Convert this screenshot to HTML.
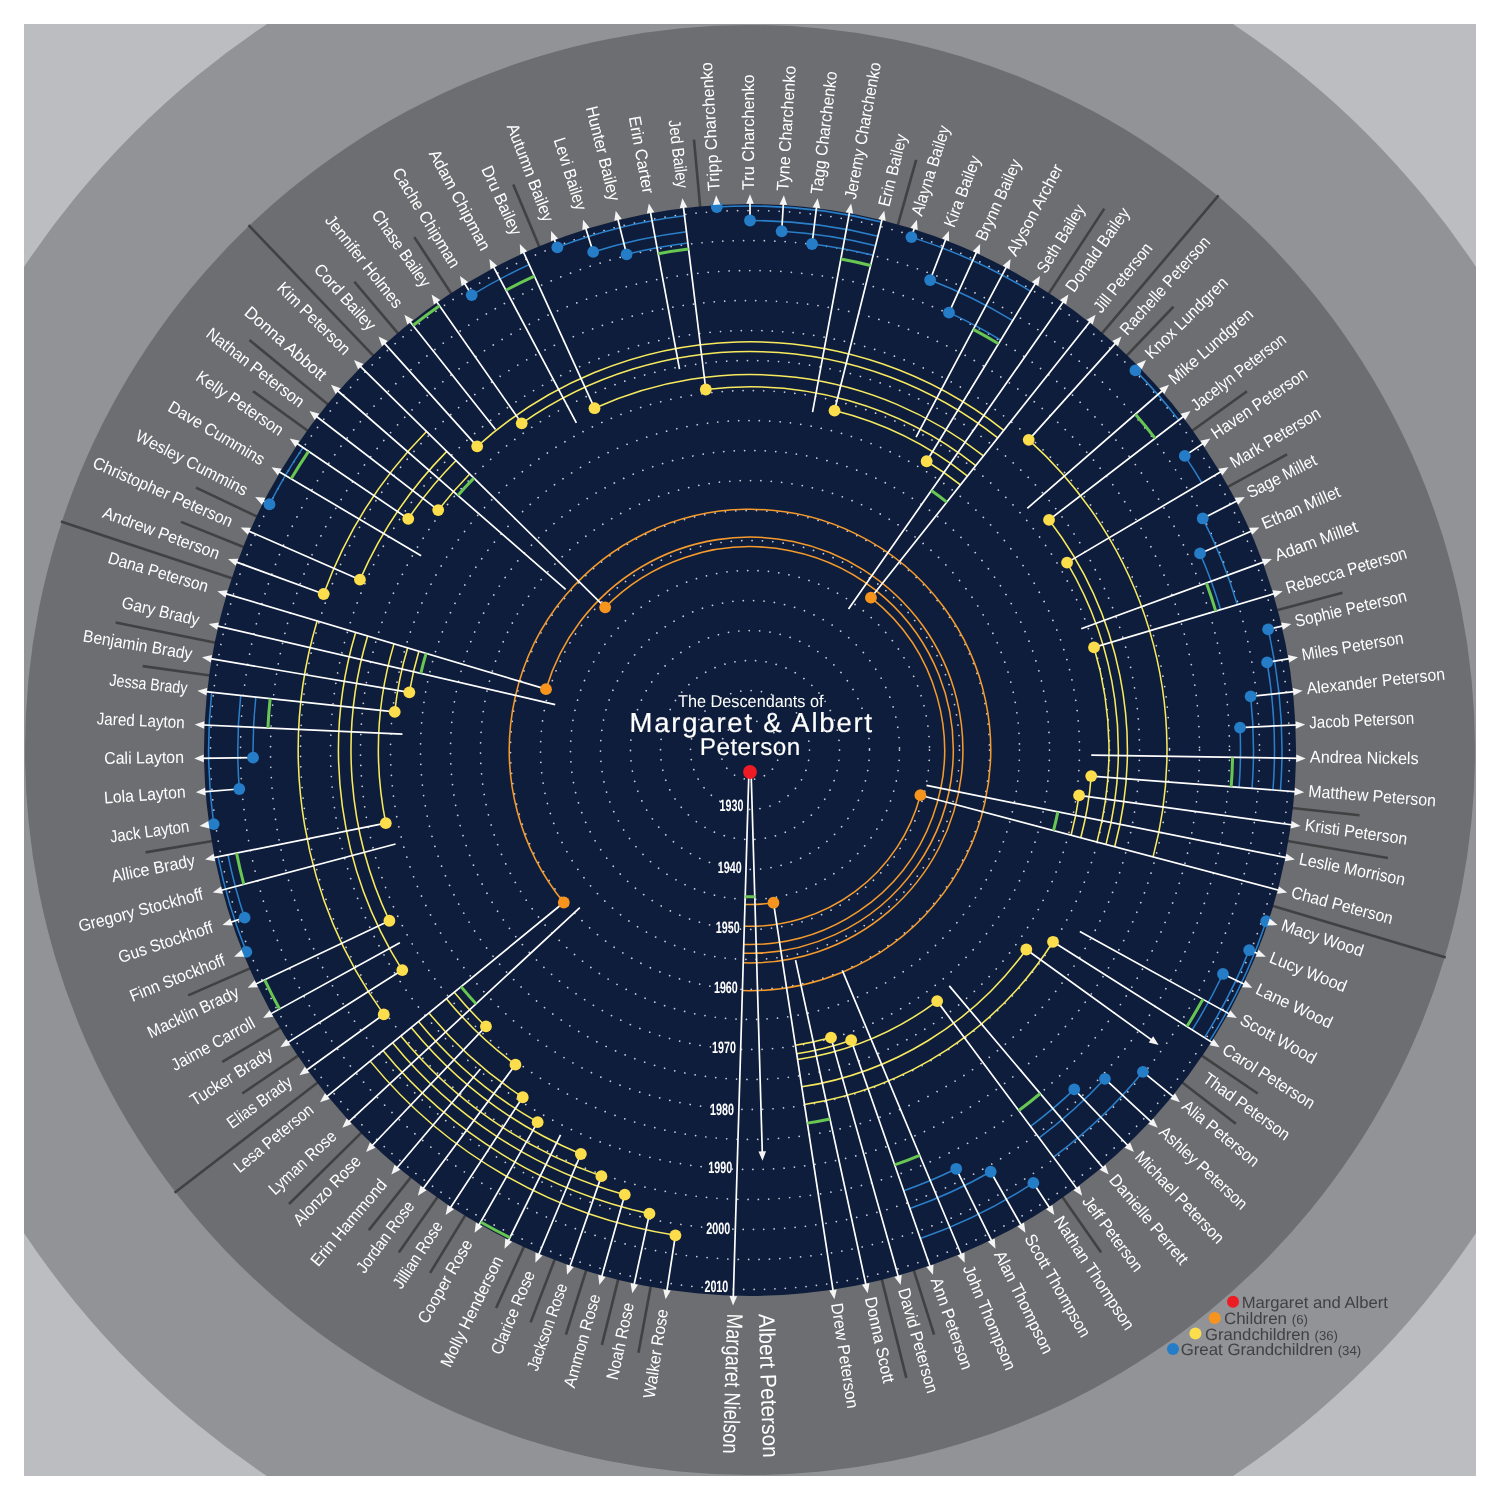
<!DOCTYPE html>
<html><head><meta charset="utf-8"><title>The Descendants of Margaret &amp; Albert Peterson</title>
<style>html,body{margin:0;padding:0;background:#fff}body{width:1500px;height:1500px;overflow:hidden}svg{display:block;will-change:transform}text{font-family:"Liberation Sans",sans-serif;text-rendering:geometricPrecision}</style></head><body>
<svg width="1500" height="1500" viewBox="0 0 1500 1500">
<defs><clipPath id="sq"><rect x="24" y="24" width="1452" height="1452"/></clipPath></defs>
<rect width="1500" height="1500" fill="#ffffff"/>
<g clip-path="url(#sq)">
<rect x="24" y="24" width="1452" height="1452" fill="#bbbdc0"/>
<circle cx="750" cy="750" r="872" fill="#929397"/>
<circle cx="750" cy="750" r="725" fill="#6d6e71"/>
</g>
<g stroke="#414042" stroke-width="2.6" fill="none">
<line x1="1101.73" y1="333.7" x2="1218.55" y2="195.44"/>
<line x1="1272.28" y1="905.72" x2="1445.74" y2="957.43"/>
<line x1="373.54" y1="355.91" x2="248.52" y2="225.03"/>
<line x1="232.71" y1="578.43" x2="60.91" y2="521.45"/>
<line x1="318.04" y1="1082.32" x2="174.59" y2="1192.69"/>
<line x1="1048.45" y1="293.98" x2="1104.31" y2="208.64"/>
<line x1="328.38" y1="404.66" x2="249.47" y2="340.02"/>
<line x1="215.68" y1="642.66" x2="115.67" y2="622.57"/>
<line x1="361.7" y1="1132.42" x2="289.03" y2="1204"/>
<line x1="881.67" y1="1278.86" x2="906.31" y2="1377.83"/>
<line x1="1287.35" y1="841" x2="1387.92" y2="858.03"/>
<line x1="897.74" y1="225.41" x2="916.17" y2="159.95"/>
<line x1="700.2" y1="207.28" x2="693.99" y2="139.56"/>
<line x1="539.52" y1="247.28" x2="513.26" y2="184.56"/>
<line x1="451.55" y1="293.98" x2="414.31" y2="237.09"/>
<line x1="398.27" y1="333.7" x2="354.38" y2="281.75"/>
<line x1="308.11" y1="431" x2="252.98" y2="391.2"/>
<line x1="257.44" y1="516.75" x2="195.98" y2="487.64"/>
<line x1="244.13" y1="547.21" x2="181.02" y2="521.91"/>
<line x1="210.13" y1="675.43" x2="142.76" y2="666.13"/>
<line x1="212.65" y1="841" x2="145.61" y2="852.35"/>
<line x1="250.55" y1="968.12" x2="188.24" y2="995.34"/>
<line x1="280.81" y1="1027.28" x2="222.27" y2="1061.88"/>
<line x1="298.59" y1="1055.37" x2="242.27" y2="1093.47"/>
<line x1="411.13" y1="1176.84" x2="368.85" y2="1230.09"/>
<line x1="437.78" y1="1196.7" x2="398.82" y2="1252.44"/>
<line x1="465.59" y1="1214.91" x2="430.11" y2="1272.91"/>
<line x1="524.29" y1="1246.06" x2="496.12" y2="1307.96"/>
<line x1="554.95" y1="1258.9" x2="530.61" y2="1322.4"/>
<line x1="586.34" y1="1269.85" x2="565.92" y2="1334.71"/>
<line x1="618.33" y1="1278.86" x2="601.9" y2="1344.84"/>
<line x1="650.82" y1="1285.9" x2="638.44" y2="1352.76"/>
<line x1="913.66" y1="1269.85" x2="934.08" y2="1334.71"/>
<line x1="1062.22" y1="1196.7" x2="1101.18" y2="1252.44"/>
<line x1="1181.96" y1="1082.32" x2="1235.85" y2="1123.79"/>
<line x1="1201.41" y1="1055.37" x2="1257.73" y2="1093.47"/>
<line x1="1291.9" y1="808.07" x2="1359.51" y2="815.32"/>
<line x1="1276.79" y1="610.28" x2="1342.51" y2="592.85"/>
<line x1="1227.43" y1="487.15" x2="1287" y2="454.36"/>
<line x1="1191.89" y1="431" x2="1247.02" y2="391.2"/>
<line x1="1126.46" y1="355.91" x2="1173.43" y2="306.74"/>
</g>
<circle cx="750" cy="750" r="546" fill="#0e1d3b"/>
<g fill="none" stroke="#c6ccdc" stroke-width="1.75" stroke-linecap="round" stroke-dasharray="0.01 10.4">
<circle cx="750" cy="750" r="29.5"/>
<circle cx="750" cy="750" r="59.5"/>
<circle cx="750" cy="750" r="89.5"/>
<circle cx="750" cy="750" r="119.5"/>
<circle cx="750" cy="750" r="149.5"/>
<circle cx="750" cy="750" r="179.5"/>
<circle cx="750" cy="750" r="209.5"/>
<circle cx="750" cy="750" r="239.5"/>
<circle cx="750" cy="750" r="269.5"/>
<circle cx="750" cy="750" r="299.5"/>
<circle cx="750" cy="750" r="329.5"/>
<circle cx="750" cy="750" r="359.5"/>
<circle cx="750" cy="750" r="389.5"/>
<circle cx="750" cy="750" r="419.5"/>
<circle cx="750" cy="750" r="449.5"/>
<circle cx="750" cy="750" r="479.5"/>
<circle cx="750" cy="750" r="509.5"/>
<circle cx="750" cy="750" r="539.5"/>
</g>
<path fill="none" stroke="#f59a2c" stroke-width="1.55" d="M744.97 904.42 A154.5 154.5 0 0 0 773.47 902.71 M744.32 926.21 A176.3 176.3 0 0 0 920.41 795.2 M743.78 944.4 A194.5 194.5 0 0 0 870.94 597.67 M743.52 953.2 A203.3 203.3 0 1 0 605.15 607.35 M743.23 962.79 A212.9 212.9 0 1 0 545.98 689.17 M742.41 990.58 A240.7 240.7 0 1 0 563.79 902.52"/>
<path fill="none" stroke="#f8ea5e" stroke-width="1.55" d="M960.47 484.89 A338.5 338.5 0 0 0 926.65 461.25 M967.5 476.04 A349.8 349.8 0 0 0 834.51 410.56 M975.83 465.55 A363.2 363.2 0 0 0 705.8 389.5 M983.48 455.91 A375.5 375.5 0 0 0 594.49 408.22 M997.78 437.9 A398.5 398.5 0 0 0 521.71 423.37 M1003.81 430.3 A408.2 408.2 0 0 0 477.17 446.37 M469.71 473.95 A393.4 393.4 0 0 0 438.2 510.12 M456.03 460.48 A412.6 412.6 0 0 0 408.25 518.81 M446.77 451.36 A425.6 425.6 0 0 0 359.97 579.66 M426.53 431.43 A454 454 0 0 0 323.64 594 M418.9 651.28 A345.5 345.5 0 0 0 409.35 692.31 M407.59 647.91 A357.3 357.3 0 0 0 394.73 711.93 M393.99 643.85 A371.5 371.5 0 0 0 385.78 823.17 M367.63 636 A399 399 0 0 0 389.39 920.77 M355.65 632.43 A411.5 411.5 0 0 0 402.29 970.07 M317.13 620.94 A451.7 451.7 0 0 0 383.76 1014.39 M454.25 992.25 A382.3 382.3 0 0 0 485.93 1026.44 M446.36 998.71 A392.5 392.5 0 0 0 515.44 1064.7 M428.95 1012.97 A415 415 0 0 0 522.74 1097.24 M418.51 1021.52 A428.5 428.5 0 0 0 537.64 1122.18 M411.16 1027.54 A438 438 0 0 0 580.84 1154.02 M400.87 1035.97 A451.3 451.3 0 0 0 601.41 1176.14 M392.59 1042.75 A462 462 0 0 0 624.76 1194.7 M383 1050.61 A474.4 474.4 0 0 0 649.48 1213.63 M370.16 1061.13 A491 491 0 0 0 675.41 1235.3 M795.39 1045.33 A298.8 298.8 0 0 0 831 1037.61 M796.68 1053.73 A307.3 307.3 0 0 0 851.18 1040.17 M797.58 1059.56 A313.2 313.2 0 0 0 937.17 1001.12 M804.48 1104.44 A358.6 358.6 0 0 0 1053.01 941.78 M801.77 1086.84 A340.8 340.8 0 0 0 1026.32 949.48 M1071.1 835.16 A332.2 332.2 0 0 0 1079.08 795.45 M1080.76 837.73 A342.2 342.2 0 0 0 1091.21 776.07 M1097 842.03 A359 359 0 0 0 1094.03 647.43 M1105.99 844.42 A368.3 368.3 0 0 0 1067.07 562.62 M1114.69 846.73 A377.3 377.3 0 0 0 1049.04 519.93 M1153.06 856.9 A417 417 0 0 0 1028.71 439.83"/>
<path fill="none" stroke="#2b7fc9" stroke-width="1.55" d="M1000.75 340.12 A480.5 480.5 0 0 0 949 312.65 M1012.65 320.67 A503.3 503.3 0 0 0 930.13 280.04 M1030.6 291.32 A537.7 537.7 0 0 0 911.47 237.12 M873.16 255.3 A509.8 509.8 0 0 0 812.04 243.99 M875.56 245.69 A519.7 519.7 0 0 0 781.68 231.27 M877.92 236.19 A529.5 529.5 0 0 0 750 220.5 M881.43 222.11 A544 544 0 0 0 716.84 207.01 M687.84 243 A510.8 510.8 0 0 0 626.59 254.33 M686.45 231.68 A522.2 522.2 0 0 0 593.18 251.9 M684.49 215.7 A538.3 538.3 0 0 0 557.35 247.36 M529.13 264.59 A533.3 533.3 0 0 0 471.7 295.07 M302.98 447.6 A539.7 539.7 0 0 0 269.5 504.25 M255.83 697.04 A497 497 0 0 0 253.06 757.58 M240.72 695.42 A512.2 512.2 0 0 0 239.29 789.02 M211.68 692.31 A541.4 541.4 0 0 0 213.69 824.08 M227.93 854.88 A532.5 532.5 0 0 0 244.58 917.64 M218.03 856.87 A542.6 542.6 0 0 0 246.36 951.9 M903.69 1190.77 A466.8 466.8 0 0 0 956.19 1168.79 M909.88 1208.52 A485.6 485.6 0 0 0 990.66 1171.77 M920.35 1238.55 A517.4 517.4 0 0 0 1033.34 1182.92 M1030.52 1126.36 A469.4 469.4 0 0 0 1074.24 1089.42 M1039.12 1137.9 A483.8 483.8 0 0 0 1104.89 1078.81 M1053.53 1157.23 A507.9 507.9 0 0 0 1142.92 1071.83 M1192.18 1029.86 A523.3 523.3 0 0 0 1222.95 973.97 M1204.43 1037.61 A537.8 537.8 0 0 0 1249.18 950.11 M1209.59 1040.88 A543.9 543.9 0 0 0 1266.24 921.23 M1239.07 787.37 A490.5 490.5 0 0 0 1239.99 727.57 M1252.04 788.36 A503.5 503.5 0 0 0 1250.63 696.35 M1272.98 789.96 A524.5 524.5 0 0 0 1267.14 662.42 M1280.45 790.53 A532 532 0 0 0 1268.14 629.36 M1220.63 609.68 A491.1 491.1 0 0 0 1200.05 553.45 M1237.3 604.71 A508.5 508.5 0 0 0 1202.72 518.46 M1201.88 482.94 A524.9 524.9 0 0 0 1184.76 455.89 M1178.79 420.11 A541 541 0 0 0 1135.45 370.38"/>
<path fill="none" stroke="#ffffff" stroke-width="1.7" d="M773.47 902.71L833.83 1295.4 M920.41 795.2L1283.36 891.46 M870.94 597.67L1093.1 317.84 M605.15 607.35L356.85 362.81 M545.98 689.17L221.2 592.34 M563.79 902.52L323.12 1099.65 M926.65 461.25L1037.96 279.29 M834.51 410.56L883.31 214.55 M705.8 389.5L682.85 202.3 M594.49 408.22L521.47 247.75 M521.71 423.37L433.88 297.72 M477.17 446.37L381.19 339.56 M438.2 510.12L312.65 413.53 M408.25 518.81L292.96 440.82 M359.97 579.66L244.32 529.16 M323.64 594L231.8 560.39 M409.35 692.31L205.95 657.87 M394.73 711.93L201.34 691.21 M385.78 823.17L209.01 858.68 M389.39 920.77L251.29 986.16 M402.29 970.07L283.74 1045.1 M383.76 1014.39L302.6 1072.98 M485.93 1026.44L368.85 1149 M515.44 1064.7L420.24 1192.43 M522.74 1097.24L447.82 1211.71 M537.64 1122.18L476.53 1229.27 M580.84 1154.02L536.89 1258.99 M601.41 1176.14L568.32 1271.03 M624.76 1194.7L600.42 1281.14 M649.48 1213.63L633.08 1289.27 M675.41 1235.3L666.17 1295.4 M831 1037.61L899.58 1281.14 M851.18 1040.17L931.68 1271.03 M937.17 1001.12L1079.76 1192.43 M1053.01 941.78L1216.26 1045.1 M1026.32 949.48L1155.4 1042.66 M1079.08 795.45L1296.61 825.5 M1091.21 776.07L1300.2 792.04 M1094.03 647.43L1278.8 592.34 M1067.07 562.62L1225.04 469.26 M1049.04 519.93L1187.35 413.53 M1028.71 439.83L1118.81 339.56 M949 312.65L978.53 247.75 M930.13 280.04L947.49 234.75 M911.47 237.12L915.71 223.67 M812.04 243.99L817.15 202.3 M781.68 231.27L783.64 199.23 M750 220.5L750 198.2 M716.84 207.01L716.36 199.23 M626.59 254.33L616.69 214.55 M593.18 251.9L584.29 223.67 M557.35 247.36L552.51 234.75 M471.7 295.07L462.04 279.29 M269.5 504.25L258.73 498.74 M253.06 757.58L198.26 758.41 M239.29 789.02L199.8 792.04 M213.69 824.08L203.39 825.5 M244.58 917.64L226.26 923.71 M246.36 951.9L237.82 955.32 M956.19 1168.79L993.74 1245.05 M990.66 1171.77L1023.47 1229.27 M1033.34 1182.92L1052.18 1211.71 M1074.24 1089.42L1131.15 1149 M1104.89 1078.81L1154.77 1125.03 M1142.92 1071.83L1176.88 1099.65 M1222.95 973.97L1248.71 986.16 M1249.18 950.11L1262.18 955.32 M1266.24 921.23L1273.74 923.71 M1239.99 727.57L1301.22 724.76 M1250.63 696.35L1298.66 691.21 M1267.14 662.42L1294.05 657.87 M1268.14 629.36L1287.43 624.87 M1200.05 553.45L1255.68 529.16 M1202.72 518.46L1241.27 498.74 M1184.76 455.89L1207.04 440.82 M1135.45 370.38L1143.15 362.81 M795.56 960.12L866.92 1289.27 M926.47 785.45L1290.99 858.68 M848.54 609.02L1066.12 297.72 M565.66 589.37L333.98 387.49 M555.21 704.65L212.57 624.87 M579.82 907.68L345.23 1125.03 M916.07 437.15L1008.72 262.61 M812.55 412.04L850.42 207.41 M679.52 369.17L649.58 207.41 M576.38 422.93L491.28 262.61 M495.5 429.44L406.9 317.84 M421.14 555.65L274.96 469.26 M402.46 734.09L198.78 724.76 M395.55 844.01L216.64 891.46 M399.86 942.77L266.62 1016.13 M480.42 1069.07L393.88 1171.5 M560.55 1134.79L506.26 1245.05 M842.61 971.19L963.11 1258.99 M949.29 985.88L1106.12 1171.5 M1079.82 931.58L1233.38 1016.13 M1091.26 755.2L1301.74 758.41 M1081.22 628.81L1268.2 560.39 M1027.3 508.37L1166.02 387.49 M748.9 772L733.17 1301.54 M751.1 772L762.42 1156.81"/>
<path fill="none" stroke="#68c653" stroke-width="3" d="M807.35 1123.12 A377.5 377.5 0 0 0 829.99 1118.93 M1053.51 830.5 A314 314 0 0 0 1057.85 811.85 M946.79 502.12 A316.5 316.5 0 0 0 931.32 490.58 M473.91 478.09 A387.5 387.5 0 0 0 457.85 495.43 M426.09 653.43 A338 338 0 0 0 420.81 673.35 M461.05 986.67 A373.5 373.5 0 0 0 476.02 1003.85 M998.5 343.78 A476.2 476.2 0 0 0 973.28 329.39 M870.63 265.49 A499.3 499.3 0 0 0 840.87 259.04 M688.58 249.05 A504.7 504.7 0 0 0 658.15 253.73 M534.43 276.24 A520.5 520.5 0 0 0 505.95 290.26 M439.5 305.76 A542 542 0 0 0 412.99 325.51 M308.53 451.35 A533 533 0 0 0 291.14 478.82 M270.15 698.58 A482.6 482.6 0 0 0 267.9 727.93 M236.56 853.15 A523.7 523.7 0 0 0 243.8 884.26 M264.67 979.83 A537 537 0 0 0 279.58 1008.99 M480.65 1222.06 A543.5 543.5 0 0 0 509.93 1237.6 M894.67 1164.9 A439.4 439.4 0 0 0 919.7 1155.31 M1018.75 1110.56 A449.7 449.7 0 0 0 1040.23 1093.51 M1186.86 1026.49 A517 517 0 0 0 1202.9 999.34 M1231.2 786.76 A482.6 482.6 0 0 0 1232.54 757.36 M1215.74 611.14 A486 486 0 0 0 1206.41 583 M1155.17 438.29 A511.2 511.2 0 0 0 1135.41 414.17 M745.2 896.67L754.77 896.67"/>
<g fill="#f7941e">
<circle cx="773.47" cy="902.71" r="5.9"/>
<circle cx="920.41" cy="795.2" r="5.9"/>
<circle cx="870.94" cy="597.67" r="5.9"/>
<circle cx="605.15" cy="607.35" r="5.9"/>
<circle cx="545.98" cy="689.17" r="5.9"/>
<circle cx="563.79" cy="902.52" r="5.9"/>
</g>
<g fill="#fcdd4b">
<circle cx="926.65" cy="461.25" r="5.9"/>
<circle cx="834.51" cy="410.56" r="5.9"/>
<circle cx="705.8" cy="389.5" r="5.9"/>
<circle cx="594.49" cy="408.22" r="5.9"/>
<circle cx="521.71" cy="423.37" r="5.9"/>
<circle cx="477.17" cy="446.37" r="5.9"/>
<circle cx="438.2" cy="510.12" r="5.9"/>
<circle cx="408.25" cy="518.81" r="5.9"/>
<circle cx="359.97" cy="579.66" r="5.9"/>
<circle cx="323.64" cy="594" r="5.9"/>
<circle cx="409.35" cy="692.31" r="5.9"/>
<circle cx="394.73" cy="711.93" r="5.9"/>
<circle cx="385.78" cy="823.17" r="5.9"/>
<circle cx="389.39" cy="920.77" r="5.9"/>
<circle cx="402.29" cy="970.07" r="5.9"/>
<circle cx="383.76" cy="1014.39" r="5.9"/>
<circle cx="485.93" cy="1026.44" r="5.9"/>
<circle cx="515.44" cy="1064.7" r="5.9"/>
<circle cx="522.74" cy="1097.24" r="5.9"/>
<circle cx="537.64" cy="1122.18" r="5.9"/>
<circle cx="580.84" cy="1154.02" r="5.9"/>
<circle cx="601.41" cy="1176.14" r="5.9"/>
<circle cx="624.76" cy="1194.7" r="5.9"/>
<circle cx="649.48" cy="1213.63" r="5.9"/>
<circle cx="675.41" cy="1235.3" r="5.9"/>
<circle cx="831" cy="1037.61" r="5.9"/>
<circle cx="851.18" cy="1040.17" r="5.9"/>
<circle cx="937.17" cy="1001.12" r="5.9"/>
<circle cx="1053.01" cy="941.78" r="5.9"/>
<circle cx="1026.32" cy="949.48" r="5.9"/>
<circle cx="1079.08" cy="795.45" r="5.9"/>
<circle cx="1091.21" cy="776.07" r="5.9"/>
<circle cx="1094.03" cy="647.43" r="5.9"/>
<circle cx="1067.07" cy="562.62" r="5.9"/>
<circle cx="1049.04" cy="519.93" r="5.9"/>
<circle cx="1028.71" cy="439.83" r="5.9"/>
</g>
<g fill="#257dc8">
<circle cx="949" cy="312.65" r="5.9"/>
<circle cx="930.13" cy="280.04" r="5.9"/>
<circle cx="911.47" cy="237.12" r="5.9"/>
<circle cx="812.04" cy="243.99" r="5.9"/>
<circle cx="781.68" cy="231.27" r="5.9"/>
<circle cx="750" cy="220.5" r="5.9"/>
<circle cx="716.84" cy="207.01" r="5.9"/>
<circle cx="626.59" cy="254.33" r="5.9"/>
<circle cx="593.18" cy="251.9" r="5.9"/>
<circle cx="557.35" cy="247.36" r="5.9"/>
<circle cx="471.7" cy="295.07" r="5.9"/>
<circle cx="269.5" cy="504.25" r="5.9"/>
<circle cx="253.06" cy="757.58" r="5.9"/>
<circle cx="239.29" cy="789.02" r="5.9"/>
<circle cx="213.69" cy="824.08" r="5.9"/>
<circle cx="244.58" cy="917.64" r="5.9"/>
<circle cx="246.36" cy="951.9" r="5.9"/>
<circle cx="956.19" cy="1168.79" r="5.9"/>
<circle cx="990.66" cy="1171.77" r="5.9"/>
<circle cx="1033.34" cy="1182.92" r="5.9"/>
<circle cx="1074.24" cy="1089.42" r="5.9"/>
<circle cx="1104.89" cy="1078.81" r="5.9"/>
<circle cx="1142.92" cy="1071.83" r="5.9"/>
<circle cx="1222.95" cy="973.97" r="5.9"/>
<circle cx="1249.18" cy="950.11" r="5.9"/>
<circle cx="1266.24" cy="921.23" r="5.9"/>
<circle cx="1239.99" cy="727.57" r="5.9"/>
<circle cx="1250.63" cy="696.35" r="5.9"/>
<circle cx="1267.14" cy="662.42" r="5.9"/>
<circle cx="1268.14" cy="629.36" r="5.9"/>
<circle cx="1200.05" cy="553.45" r="5.9"/>
<circle cx="1202.72" cy="518.46" r="5.9"/>
<circle cx="1184.76" cy="455.89" r="5.9"/>
<circle cx="1135.45" cy="370.38" r="5.9"/>
</g>
<circle cx="750" cy="772" r="6.9" fill="#ed1c24"/>
<path fill="#f4f4f4" stroke="none" d="M834.43 1299.35L829.23 1290.54L836.75 1289.38Z M1287.23 892.49L1277.07 893.72L1279.02 886.38Z M1095.59 314.7L1092.66 324.51L1086.71 319.78Z M354 360L363.44 363.96L358.11 369.37Z M217.37 591.2L227.56 590.27L225.39 597.55Z M320.02 1102.19L324.97 1093.23L329.78 1099.11Z M1040.04 275.88L1038.33 285.97L1031.84 282Z M884.28 210.66L885.67 220.8L878.29 218.96Z M682.36 198.33L687.29 207.3L679.74 208.22Z M519.81 244.11L527.21 251.18L520.29 254.33Z M431.59 294.45L440.15 300.05L433.92 304.41Z M378.52 336.58L387.69 341.11L382.04 346.19Z M309.48 411.09L319.33 413.87L314.7 419.89Z M289.64 438.58L299.64 440.75L295.38 447.05Z M240.66 527.56L250.88 527.87L247.84 534.84Z M228.04 559.02L238.27 558.72L235.66 565.85Z M202 657.2L212 655.04L210.73 662.53Z M197.36 690.78L207.21 688.01L206.41 695.57Z M205.09 859.47L213.65 853.87L215.15 861.32Z M247.68 987.87L254.64 980.37L257.89 987.24Z M280.36 1047.24L286.35 1038.95L290.42 1045.37Z M299.35 1075.32L304.83 1066.68L309.28 1072.84Z M366.08 1151.9L369.9 1142.4L375.39 1147.65Z M417.85 1195.63L420.48 1185.74L426.57 1190.29Z M445.63 1215.05L447.66 1205.02L454.01 1209.19Z M474.55 1232.74L475.96 1222.61L482.56 1226.38Z M535.35 1262.68L535.51 1252.45L542.52 1255.38Z M567 1274.81L566.54 1264.59L573.72 1267.09Z M599.34 1284.99L598.25 1274.82L605.57 1276.88Z M632.23 1293.18L630.53 1283.09L637.96 1284.7Z M665.57 1299.35L663.25 1289.38L670.77 1290.54Z M900.66 1284.99L894.43 1276.88L901.75 1274.82Z M933 1274.81L926.28 1267.09L933.46 1264.59Z M1082.15 1195.63L1073.43 1190.29L1079.52 1185.74Z M1219.64 1047.24L1209.58 1045.37L1213.65 1038.95Z M1158.65 1045L1148.72 1042.52L1153.17 1036.36Z M1300.57 826.05L1290.64 828.51L1291.68 820.98Z M1304.18 792.34L1294.42 795.41L1295 787.83Z M1282.63 591.2L1274.61 597.55L1272.44 590.27Z M1228.49 467.22L1222.24 475.33L1218.37 468.78Z M1190.52 411.09L1185.3 419.89L1180.67 413.87Z M1121.48 336.58L1117.96 346.19L1112.31 341.11Z M980.19 244.11L979.71 254.33L972.79 251.18Z M948.92 231.01L949.07 241.25L941.97 238.53Z M916.91 219.85L917.68 230.06L910.43 227.77Z M817.64 198.33L820.26 208.22L812.71 207.3Z M783.88 195.23L787.1 204.95L779.51 204.48Z M750 194.2L753.8 203.7L746.2 203.7Z M716.12 195.23L720.49 204.48L712.9 204.95Z M615.72 210.66L621.71 218.96L614.33 220.8Z M583.09 219.85L589.57 227.77L582.32 230.06Z M551.08 231.01L558.03 238.53L550.93 241.25Z M459.96 275.88L468.16 282L461.67 285.97Z M255.16 496.92L265.35 497.86L261.89 504.63Z M194.26 758.48L203.71 754.53L203.82 762.13Z M195.82 792.34L205 787.83L205.58 795.41Z M199.43 826.05L208.32 820.98L209.36 828.51Z M222.46 924.97L230.28 918.38L232.67 925.59Z M234.11 956.81L241.51 949.75L244.34 956.8Z M995.51 1248.64L987.9 1241.79L994.72 1238.44Z M1025.45 1232.74L1017.44 1226.38L1024.04 1222.61Z M1054.37 1215.05L1045.99 1209.19L1052.34 1205.02Z M1133.92 1151.9L1124.61 1147.65L1130.1 1142.4Z M1157.7 1127.74L1148.15 1124.07L1153.32 1118.5Z M1179.98 1102.19L1170.22 1099.11L1175.03 1093.23Z M1252.32 987.87L1242.11 987.24L1245.36 980.37Z M1265.89 956.81L1255.66 956.8L1258.49 949.75Z M1277.54 924.97L1267.33 925.59L1269.72 918.38Z M1305.22 724.58L1295.9 728.81L1295.55 721.22Z M1302.64 690.78L1293.59 695.57L1292.79 688.01Z M1298 657.2L1289.27 662.53L1288 655.04Z M1291.32 623.96L1282.93 629.82L1281.21 622.42Z M1259.34 527.56L1252.16 534.84L1249.12 527.87Z M1244.84 496.92L1238.11 504.63L1234.65 497.86Z M1210.36 438.58L1204.62 447.05L1200.36 440.75Z M1146 360L1141.89 369.37L1136.56 363.96Z M867.77 1293.18L862.04 1284.7L869.47 1283.09Z M1294.91 859.47L1284.85 861.32L1286.35 853.87Z M1068.41 294.45L1066.08 304.41L1059.85 300.05Z M330.97 384.87L340.62 388.24L335.63 393.97Z M208.68 623.96L218.79 622.42L217.07 629.82Z M342.3 1127.74L346.68 1118.5L351.85 1124.07Z M1010.6 259.08L1009.5 269.25L1002.79 265.69Z M851.15 203.48L853.16 213.51L845.68 212.13Z M648.85 203.48L654.32 212.13L646.84 213.51Z M489.4 259.08L497.21 265.69L490.5 269.25Z M404.41 314.7L413.29 319.78L407.34 324.51Z M271.51 467.22L281.63 468.78L277.76 475.33Z M194.78 724.58L204.45 721.22L204.1 728.81Z M212.77 892.49L220.98 886.38L222.93 893.72Z M263.11 1018.06L269.6 1010.15L273.27 1016.8Z M391.3 1174.55L394.53 1164.85L400.33 1169.75Z M504.49 1248.64L505.28 1238.44L512.1 1241.79Z M964.65 1262.68L957.48 1255.38L964.49 1252.45Z M1108.7 1174.55L1099.67 1169.75L1105.47 1164.85Z M1236.89 1018.06L1226.73 1016.8L1230.4 1010.15Z M1305.74 758.48L1296.18 762.13L1296.29 754.53Z M1271.96 559.02L1264.34 565.85L1261.73 558.72Z M1169.03 384.87L1164.37 393.97L1159.38 388.24Z M733.05 1305.54L729.53 1295.93L737.13 1296.16Z M762.53 1160.81L758.46 1151.42L766.05 1151.2Z"/>
<g fill="#ffffff" font-size="16.4" font-weight="bold" text-anchor="end">
<text transform="translate(743.5 811.05) scale(0.655 1)" x="0" y="0">1930</text>
<text transform="translate(741.6 873.15) scale(0.655 1)" x="0" y="0">1940</text>
<text transform="translate(739.7 933.05) scale(0.655 1)" x="0" y="0">1950</text>
<text transform="translate(737.8 992.85) scale(0.655 1)" x="0" y="0">1960</text>
<text transform="translate(735.9 1053.35) scale(0.655 1)" x="0" y="0">1970</text>
<text transform="translate(734 1114.6) scale(0.655 1)" x="0" y="0">1980</text>
<text transform="translate(732.1 1172.95) scale(0.655 1)" x="0" y="0">1990</text>
<text transform="translate(730.2 1233.6) scale(0.655 1)" x="0" y="0">2000</text>
<text transform="translate(728.3 1292.35) scale(0.655 1)" x="0" y="0">2010</text>
</g>
<g fill="#ffffff" font-size="17">
<text transform="translate(664.02 1309.43) rotate(278.74)" x="-89.92" y="4.2" textLength="89.92" lengthAdjust="spacingAndGlyphs">Walker Rose</text>
<text transform="translate(630.07 1303.15) rotate(282.23)" x="-78.41" y="4.2" textLength="78.41" lengthAdjust="spacingAndGlyphs">Noah Rose</text>
<text transform="translate(596.57 1294.81) rotate(285.73)" x="-96.29" y="4.2" textLength="96.29" lengthAdjust="spacingAndGlyphs">Ammon Rose</text>
<text transform="translate(563.64 1284.44) rotate(289.22)" x="-91.33" y="4.2" textLength="91.33" lengthAdjust="spacingAndGlyphs">Jackson Rose</text>
<text transform="translate(531.41 1272.09) rotate(292.72)" x="-88.85" y="4.2" textLength="88.85" lengthAdjust="spacingAndGlyphs">Clarice Rose</text>
<text transform="translate(499.99 1257.79) rotate(296.21)" x="-121.42" y="4.2" textLength="121.42" lengthAdjust="spacingAndGlyphs">Molly Henderson</text>
<text transform="translate(469.5 1241.6) rotate(299.71)" x="-93.28" y="4.2" textLength="93.28" lengthAdjust="spacingAndGlyphs">Cooper Rose</text>
<text transform="translate(440.05 1223.59) rotate(303.2)" x="-76.64" y="4.2" textLength="76.64" lengthAdjust="spacingAndGlyphs">Jillian Rose</text>
<text transform="translate(411.75 1203.81) rotate(306.7)" x="-84.78" y="4.2" textLength="84.78" lengthAdjust="spacingAndGlyphs">Jordan Rose</text>
<text transform="translate(384.71 1182.35) rotate(310.19)" x="-107.97" y="4.2" textLength="107.97" lengthAdjust="spacingAndGlyphs">Erin Hammond</text>
<text transform="translate(359.04 1159.27) rotate(313.69)" x="-89.38" y="4.2" textLength="89.38" lengthAdjust="spacingAndGlyphs">Alonzo Rose</text>
<text transform="translate(334.81 1134.68) rotate(317.18)" x="-85.31" y="4.2" textLength="85.31" lengthAdjust="spacingAndGlyphs">Lyman Rose</text>
<text transform="translate(312.13 1108.65) rotate(320.68)" x="-97.35" y="4.2" textLength="97.35" lengthAdjust="spacingAndGlyphs">Lesa Peterson</text>
<text transform="translate(291.08 1081.29) rotate(324.17)" x="-75.93" y="4.2" textLength="75.93" lengthAdjust="spacingAndGlyphs">Elias Brady</text>
<text transform="translate(271.74 1052.69) rotate(327.67)" x="-94.16" y="4.2" textLength="94.16" lengthAdjust="spacingAndGlyphs">Tucker Brady</text>
<text transform="translate(254.18 1022.98) rotate(331.17)" x="-92.57" y="4.2" textLength="92.57" lengthAdjust="spacingAndGlyphs">Jaime Carroll</text>
<text transform="translate(238.46 992.24) rotate(334.66)" x="-98.94" y="4.2" textLength="98.94" lengthAdjust="spacingAndGlyphs">Macklin Brady</text>
<text transform="translate(224.64 960.6) rotate(338.16)" x="-100.89" y="4.2" textLength="100.89" lengthAdjust="spacingAndGlyphs">Finn Stockhoff</text>
<text transform="translate(212.78 928.18) rotate(341.65)" x="-98.59" y="4.2" textLength="98.59" lengthAdjust="spacingAndGlyphs">Gus Stockhoff</text>
<text transform="translate(202.92 895.1) rotate(345.15)" x="-128.15" y="4.2" textLength="128.15" lengthAdjust="spacingAndGlyphs">Gregory Stockhoff</text>
<text transform="translate(195.09 861.48) rotate(348.64)" x="-84.96" y="4.2" textLength="84.96" lengthAdjust="spacingAndGlyphs">Allice Brady</text>
<text transform="translate(189.32 827.44) rotate(352.14)" x="-80" y="4.2" textLength="80" lengthAdjust="spacingAndGlyphs">Jack Layton</text>
<text transform="translate(185.64 793.12) rotate(355.63)" x="-81.6" y="4.2" textLength="81.6" lengthAdjust="spacingAndGlyphs">Lola Layton</text>
<text transform="translate(184.07 758.63) rotate(359.13)" x="-80" y="4.2" textLength="80" lengthAdjust="spacingAndGlyphs">Cali Layton</text>
<text transform="translate(184.59 724.11) rotate(362.62)" x="-87.97" y="4.2" textLength="87.97" lengthAdjust="spacingAndGlyphs">Jared Layton</text>
<text transform="translate(187.22 689.69) rotate(366.12)" x="-78.23" y="4.2" textLength="78.23" lengthAdjust="spacingAndGlyphs">Jessa Brady</text>
<text transform="translate(191.95 655.5) rotate(369.61)" x="-110.45" y="4.2" textLength="110.45" lengthAdjust="spacingAndGlyphs">Benjamin Brady</text>
<text transform="translate(198.74 621.65) rotate(373.11)" x="-79.12" y="4.2" textLength="79.12" lengthAdjust="spacingAndGlyphs">Gary Brady</text>
<text transform="translate(207.59 588.28) rotate(376.6)" x="-103.72" y="4.2" textLength="103.72" lengthAdjust="spacingAndGlyphs">Dana Peterson</text>
<text transform="translate(218.46 555.52) rotate(380.1)" x="-123.02" y="4.2" textLength="123.02" lengthAdjust="spacingAndGlyphs">Andrew Peterson</text>
<text transform="translate(231.31 523.47) rotate(383.59)" x="-150.8" y="4.2" textLength="150.8" lengthAdjust="spacingAndGlyphs">Christopher Peterson</text>
<text transform="translate(246.08 492.27) rotate(387.09)" x="-123.37" y="4.2" textLength="123.37" lengthAdjust="spacingAndGlyphs">Wesley Cummins</text>
<text transform="translate(262.73 462.03) rotate(390.58)" x="-109.03" y="4.2" textLength="109.03" lengthAdjust="spacingAndGlyphs">Dave Cummins</text>
<text transform="translate(281.19 432.86) rotate(394.08)" x="-101.42" y="4.2" textLength="101.42" lengthAdjust="spacingAndGlyphs">Kelly Peterson</text>
<text transform="translate(301.4 404.87) rotate(397.57)" x="-118.41" y="4.2" textLength="118.41" lengthAdjust="spacingAndGlyphs">Nathan Peterson</text>
<text transform="translate(323.28 378.16) rotate(401.07)" x="-102.66" y="4.2" textLength="102.66" lengthAdjust="spacingAndGlyphs">Donna Abbott</text>
<text transform="translate(346.74 352.84) rotate(404.56)" x="-95.23" y="4.2" textLength="95.23" lengthAdjust="spacingAndGlyphs">Kim Peterson</text>
<text transform="translate(371.7 329) rotate(408.06)" x="-83.01" y="4.2" textLength="83.01" lengthAdjust="spacingAndGlyphs">Cord Bailey</text>
<text transform="translate(398.07 306.72) rotate(411.55)" x="-113.46" y="4.2" textLength="113.46" lengthAdjust="spacingAndGlyphs">Jennifer Holmes</text>
<text transform="translate(425.75 286.09) rotate(415.05)" x="-89.56" y="4.2" textLength="89.56" lengthAdjust="spacingAndGlyphs">Chase Bailey</text>
<text transform="translate(454.63 267.18) rotate(418.54)" x="-113.81" y="4.2" textLength="113.81" lengthAdjust="spacingAndGlyphs">Cache Chipman</text>
<text transform="translate(484.62 250.07) rotate(422.04)" x="-111.69" y="4.2" textLength="111.69" lengthAdjust="spacingAndGlyphs">Adam Chipman</text>
<text transform="translate(515.59 234.82) rotate(425.53)" x="-74.34" y="4.2" textLength="74.34" lengthAdjust="spacingAndGlyphs">Dru Bailey</text>
<text transform="translate(547.43 221.49) rotate(429.03)" x="-103.72" y="4.2" textLength="103.72" lengthAdjust="spacingAndGlyphs">Autumn Bailey</text>
<text transform="translate(580.03 210.12) rotate(432.52)" x="-75.05" y="4.2" textLength="75.05" lengthAdjust="spacingAndGlyphs">Levi Bailey</text>
<text transform="translate(613.26 200.77) rotate(436.02)" x="-96.82" y="4.2" textLength="96.82" lengthAdjust="spacingAndGlyphs">Hunter Bailey</text>
<text transform="translate(647 193.45) rotate(439.51)" x="-78.23" y="4.2" textLength="78.23" lengthAdjust="spacingAndGlyphs">Erin Carter</text>
<text transform="translate(681.12 188.21) rotate(443.01)" x="-68.68" y="4.2" textLength="68.68" lengthAdjust="spacingAndGlyphs">Jed Bailey</text>
<text transform="translate(715.86 191.04) rotate(266.5)" x="0" y="4" textLength="129.21" lengthAdjust="spacingAndGlyphs">Tripp Charchenko</text>
<text transform="translate(750 190) rotate(-90)" x="0" y="4" textLength="115.58" lengthAdjust="spacingAndGlyphs">Tru Charchenko</text>
<text transform="translate(784.14 191.04) rotate(-86.5)" x="0" y="4" textLength="125.32" lengthAdjust="spacingAndGlyphs">Tyne Charchenko</text>
<text transform="translate(818.15 194.16) rotate(-83.01)" x="0" y="4" textLength="123.55" lengthAdjust="spacingAndGlyphs">Tagg Charchenko</text>
<text transform="translate(851.91 199.35) rotate(-79.51)" x="0" y="4" textLength="138.94" lengthAdjust="spacingAndGlyphs">Jeremy Charchenko</text>
<text transform="translate(885.29 206.59) rotate(-76.02)" x="0" y="4" textLength="74.16" lengthAdjust="spacingAndGlyphs">Erin Bailey</text>
<text transform="translate(918.17 215.85) rotate(-72.52)" x="0" y="4" textLength="93.81" lengthAdjust="spacingAndGlyphs">Alayna Bailey</text>
<text transform="translate(950.42 227.09) rotate(-69.03)" x="0" y="4" textLength="75.05" lengthAdjust="spacingAndGlyphs">Kira Bailey</text>
<text transform="translate(981.93 240.28) rotate(-65.53)" x="0" y="4" textLength="87.44" lengthAdjust="spacingAndGlyphs">Brynn Bailey</text>
<text transform="translate(1012.57 255.37) rotate(-62.04)" x="0" y="4" textLength="101.07" lengthAdjust="spacingAndGlyphs">Alyson Archer</text>
<text transform="translate(1042.24 272.3) rotate(-58.54)" x="0" y="4" textLength="76.82" lengthAdjust="spacingAndGlyphs">Seth Bailey</text>
<text transform="translate(1070.81 291) rotate(-55.05)" x="0" y="4" textLength="98.41" lengthAdjust="spacingAndGlyphs">Donald Bailey</text>
<text transform="translate(1098.2 311.41) rotate(-51.55)" x="0" y="4" textLength="83.54" lengthAdjust="spacingAndGlyphs">Jill Peterson</text>
<text transform="translate(1124.29 333.46) rotate(-48.06)" x="0" y="4" textLength="125.67" lengthAdjust="spacingAndGlyphs">Rachelle Peterson</text>
<text transform="translate(1148.99 357.05) rotate(-44.56)" x="0" y="4" textLength="108.5" lengthAdjust="spacingAndGlyphs">Knox Lundgren</text>
<text transform="translate(1172.2 382.11) rotate(-41.07)" x="0" y="4" textLength="105.49" lengthAdjust="spacingAndGlyphs">Mike Lundgren</text>
<text transform="translate(1193.84 408.53) rotate(-37.57)" x="0" y="4" textLength="115.05" lengthAdjust="spacingAndGlyphs">Jacelyn Peterson</text>
<text transform="translate(1213.84 436.22) rotate(-34.08)" x="0" y="4" textLength="112.04" lengthAdjust="spacingAndGlyphs">Haven Peterson</text>
<text transform="translate(1232.1 465.08) rotate(-30.58)" x="0" y="4" textLength="101.95" lengthAdjust="spacingAndGlyphs">Mark Peterson</text>
<text transform="translate(1248.58 495) rotate(-27.09)" x="0" y="4" textLength="75.93" lengthAdjust="spacingAndGlyphs">Sage Millet</text>
<text transform="translate(1263.19 525.87) rotate(-23.59)" x="0" y="4" textLength="83.9" lengthAdjust="spacingAndGlyphs">Ethan Millet</text>
<text transform="translate(1275.9 557.58) rotate(-20.1)" x="0" y="4" textLength="86.73" lengthAdjust="spacingAndGlyphs">Adam Millet</text>
<text transform="translate(1286.66 590) rotate(-16.6)" x="0" y="4" textLength="125.32" lengthAdjust="spacingAndGlyphs">Rebecca Peterson</text>
<text transform="translate(1295.41 623.01) rotate(-13.11)" x="0" y="4" textLength="114.16" lengthAdjust="spacingAndGlyphs">Sophie Peterson</text>
<text transform="translate(1302.14 656.5) rotate(-9.61)" x="0" y="4" textLength="102.84" lengthAdjust="spacingAndGlyphs">Miles Peterson</text>
<text transform="translate(1306.81 690.33) rotate(-6.12)" x="0" y="4" textLength="138.94" lengthAdjust="spacingAndGlyphs">Alexander Peterson</text>
<text transform="translate(1309.41 724.39) rotate(-2.62)" x="0" y="4" textLength="104.78" lengthAdjust="spacingAndGlyphs">Jacob Peterson</text>
<text transform="translate(1309.93 758.54) rotate(0.87)" x="0" y="4" textLength="108.68" lengthAdjust="spacingAndGlyphs">Andrea Nickels</text>
<text transform="translate(1308.37 792.66) rotate(4.37)" x="0" y="4" textLength="127.79" lengthAdjust="spacingAndGlyphs">Matthew Peterson</text>
<text transform="translate(1304.73 826.62) rotate(7.86)" x="0" y="4" textLength="103.19" lengthAdjust="spacingAndGlyphs">Kristi Peterson</text>
<text transform="translate(1299.03 860.3) rotate(11.36)" x="0" y="4" textLength="107.79" lengthAdjust="spacingAndGlyphs">Leslie Morrison</text>
<text transform="translate(1291.29 893.56) rotate(14.85)" x="0" y="4" textLength="104.43" lengthAdjust="spacingAndGlyphs">Chad Peterson</text>
<text transform="translate(1281.53 926.3) rotate(18.35)" x="0" y="4" textLength="85.31" lengthAdjust="spacingAndGlyphs">Macy Wood</text>
<text transform="translate(1269.79 958.37) rotate(21.84)" x="0" y="4" textLength="81.6" lengthAdjust="spacingAndGlyphs">Lucy Wood</text>
<text transform="translate(1256.12 989.67) rotate(25.34)" x="0" y="4" textLength="82.66" lengthAdjust="spacingAndGlyphs">Lane Wood</text>
<text transform="translate(1240.57 1020.08) rotate(28.83)" x="0" y="4" textLength="84.43" lengthAdjust="spacingAndGlyphs">Scott Wood</text>
<text transform="translate(1223.19 1049.49) rotate(32.33)" x="0" y="4" textLength="105.67" lengthAdjust="spacingAndGlyphs">Carol Peterson</text>
<text transform="translate(1204.05 1077.78) rotate(35.83)" x="0" y="4" textLength="102.48" lengthAdjust="spacingAndGlyphs">Thad Peterson</text>
<text transform="translate(1183.22 1104.85) rotate(39.32)" x="0" y="4" textLength="94.16" lengthAdjust="spacingAndGlyphs">Alia Peterson</text>
<text transform="translate(1160.79 1130.6) rotate(42.82)" x="0" y="4" textLength="113.28" lengthAdjust="spacingAndGlyphs">Ashley Peterson</text>
<text transform="translate(1136.82 1154.93) rotate(46.31)" x="0" y="4" textLength="120.54" lengthAdjust="spacingAndGlyphs">Michael Peterson</text>
<text transform="translate(1111.41 1177.76) rotate(49.81)" x="0" y="4" textLength="112.04" lengthAdjust="spacingAndGlyphs">Danielle Perrett</text>
<text transform="translate(1084.66 1199) rotate(53.3)" x="0" y="4" textLength="89.21" lengthAdjust="spacingAndGlyphs">Jeff Peterson</text>
<text transform="translate(1056.67 1218.57) rotate(56.8)" x="0" y="4" textLength="132.22" lengthAdjust="spacingAndGlyphs">Nathan Thompson</text>
<text transform="translate(1027.53 1236.39) rotate(60.29)" x="0" y="4" textLength="115.58" lengthAdjust="spacingAndGlyphs">Scott Thompson</text>
<text transform="translate(997.36 1252.41) rotate(63.79)" x="0" y="4" textLength="112.75" lengthAdjust="spacingAndGlyphs">Alan Thompson</text>
<text transform="translate(966.27 1266.55) rotate(67.28)" x="0" y="4" textLength="112.04" lengthAdjust="spacingAndGlyphs">John Thompson</text>
<text transform="translate(934.38 1278.78) rotate(70.78)" x="0" y="4" textLength="96.11" lengthAdjust="spacingAndGlyphs">Ann Peterson</text>
<text transform="translate(901.8 1289.03) rotate(74.27)" x="0" y="4" textLength="108.15" lengthAdjust="spacingAndGlyphs">David Peterson</text>
<text transform="translate(868.66 1297.28) rotate(77.77)" x="0" y="4" textLength="87.79" lengthAdjust="spacingAndGlyphs">Donna Scott</text>
<text transform="translate(835.07 1303.5) rotate(81.26)" x="0" y="4" textLength="106.2" lengthAdjust="spacingAndGlyphs">Drew Peterson</text>
</g>
<g fill="#ffffff" font-size="22.5">
<text transform="translate(732.8 1313.74) rotate(91.75)" x="0" y="5.6" textLength="140" lengthAdjust="spacingAndGlyphs">Margaret Nielson</text>
<text transform="translate(767.2 1313.74) rotate(88.25)" x="0" y="8.5" textLength="144" lengthAdjust="spacingAndGlyphs">Albert Peterson</text>
</g>
<g fill="#ffffff" text-anchor="middle">
<text x="750.8" y="707.2" font-size="17" textLength="145.6" lengthAdjust="spacingAndGlyphs">The Descendants of</text>
<text x="750.8" y="731.5" font-size="27.5" textLength="242.5" lengthAdjust="spacing" stroke="#ffffff" stroke-width="0.2">Margaret &amp; Albert</text>
<text x="750" y="754.9" font-size="24.3" textLength="100.5" lengthAdjust="spacing" stroke="#ffffff" stroke-width="0.15">Peterson</text>
</g>
<g fill="#414042" font-size="16.5">
<circle cx="1233" cy="1301.7" r="6" fill="#ed1c24"/>
<text x="1241.7" y="1307.7" textLength="146.2" lengthAdjust="spacingAndGlyphs">Margaret and Albert</text>
<circle cx="1214.7" cy="1318" r="6" fill="#f7941e"/>
<text x="1224" y="1324.2" textLength="84" lengthAdjust="spacingAndGlyphs">Children <tspan font-size="13">(6)</tspan></text>
<circle cx="1195.4" cy="1333.5" r="6" fill="#fcdd4b"/>
<text x="1205" y="1339.8" textLength="132.9" lengthAdjust="spacingAndGlyphs">Grandchildren <tspan font-size="13">(36)</tspan></text>
<circle cx="1173" cy="1349" r="6" fill="#257dc8"/>
<text x="1180.7" y="1354.8" textLength="180.5" lengthAdjust="spacingAndGlyphs">Great Grandchildren <tspan font-size="13">(34)</tspan></text>
</g>
</svg></body></html>
